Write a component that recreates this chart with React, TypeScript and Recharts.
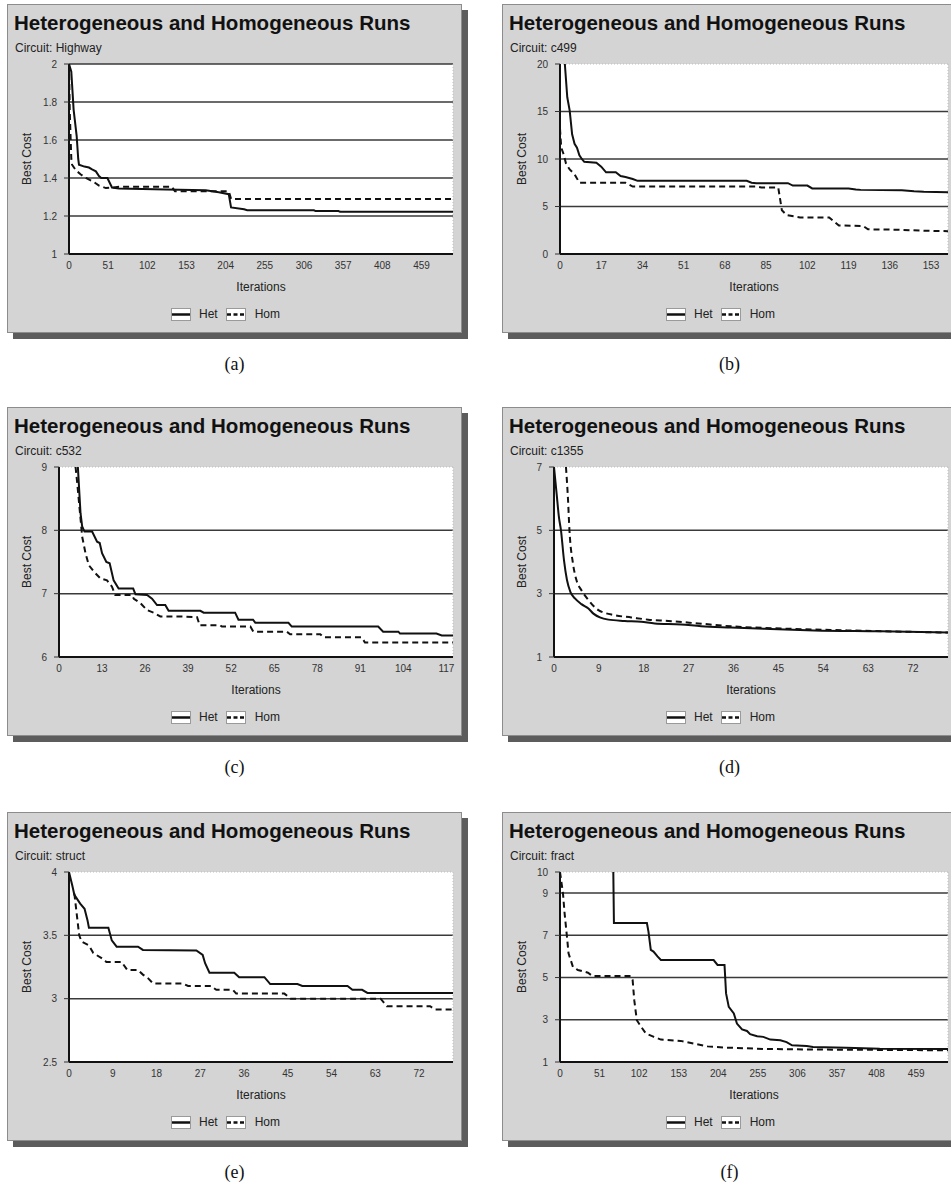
import {
  LineChart,
  Line,
  XAxis,
  YAxis,
  CartesianGrid,
  ReferenceLine,
  Legend,
} from "recharts";

type Pt = [number, number]; // [iteration, best cost]

// (a) Highway
const highwayHet: Pt[] = [
  [0, 2.0], [3, 1.96], [6, 1.76], [10, 1.62], [12, 1.5], [13, 1.47], [20, 1.46],
  [26, 1.455], [30, 1.445], [35, 1.435], [39, 1.41], [42, 1.4], [50, 1.4],
  [56, 1.35], [65, 1.345], [126, 1.34], [178, 1.335], [195, 1.325], [208, 1.315],
  [211, 1.245], [228, 1.235], [232, 1.23], [319, 1.23], [321, 1.226], [351, 1.226],
  [353, 1.222], [500, 1.222],
];
const highwayHom: Pt[] = [
  [0, 2.0], [1, 1.75], [3, 1.5], [4, 1.47], [9, 1.44], [15, 1.42], [22, 1.4],
  [32, 1.38], [39, 1.36], [48, 1.347], [58, 1.35], [65, 1.354], [134, 1.354],
  [138, 1.33], [208, 1.33], [211, 1.29], [500, 1.29],
];
const highwayXTicks = [0, 51, 102, 153, 204, 255, 306, 357, 408, 459];
const highwayYTicks = [1, 1.2, 1.4, 1.6, 1.8, 2];

// (b) c499
const c499Het: Pt[] = [
  [2, 20], [3, 16.5], [4, 15.1], [5, 12.6], [6, 11.6], [7, 11.2], [8, 10.4],
  [9, 10.0], [10, 9.7], [15, 9.6], [17, 9.2], [19, 8.6], [23, 8.6], [25, 8.2],
  [27, 8.1], [30, 7.9], [32, 7.7], [77, 7.7], [79, 7.5], [81, 7.45], [94, 7.45],
  [96, 7.2], [102, 7.2], [104, 6.9], [119, 6.9], [122, 6.8], [124, 6.75],
  [141, 6.7], [146, 6.6], [150, 6.55], [160, 6.5],
];
const c499Hom: Pt[] = [
  [0, 13.2], [0.5, 11.2], [1.5, 10.5], [2.5, 9.5], [4, 8.9], [6, 8.4], [8, 7.5],
  [27, 7.5], [30, 7.1], [81, 7.1], [83, 7.0], [90, 7.0], [91.5, 4.6], [93.5, 4.1],
  [99, 3.85], [111, 3.85], [115, 3.0], [125, 2.95], [127, 2.6], [140, 2.55],
  [150, 2.45], [160, 2.4],
];
const c499XTicks = [0, 17, 34, 51, 68, 85, 102, 119, 136, 153];
const c499YTicks = [0, 5, 10, 15, 20];

// (c) c532
const c532Het: Pt[] = [
  [5.7, 9], [6.5, 8.27], [7, 8.06], [7.7, 7.98], [10, 7.98], [11.5, 7.82],
  [12.3, 7.8], [13, 7.64], [14.3, 7.5], [15.3, 7.48], [16.5, 7.21], [18, 7.08],
  [22.4, 7.08], [23.1, 6.99], [26.6, 6.98], [28.1, 6.92], [29.6, 6.82], [32.1, 6.82],
  [33.1, 6.73], [42.7, 6.73], [43.7, 6.7], [53.2, 6.7], [54.2, 6.59], [58.6, 6.59],
  [59.3, 6.54], [69.3, 6.54], [70.3, 6.48], [96.4, 6.48], [97.9, 6.4], [102.5, 6.4],
  [103, 6.37], [114, 6.37], [115.6, 6.34], [119, 6.34],
];
const c532Hom: Pt[] = [
  [5, 9], [5.5, 8.75], [7, 7.9], [8, 7.64], [9, 7.45], [10.5, 7.35], [12.5, 7.24],
  [14.5, 7.21], [16, 7.11], [17, 6.98], [22, 6.98], [22.6, 6.92], [24.6, 6.85],
  [26.6, 6.74], [28.6, 6.7], [30.6, 6.64], [36.6, 6.64], [41.7, 6.63], [42.5, 6.5],
  [48.7, 6.5], [49.2, 6.48], [57.8, 6.48], [58.7, 6.4], [68.8, 6.4], [69.8, 6.36],
  [78.9, 6.36], [79.9, 6.31], [91.4, 6.31], [92.4, 6.23], [119, 6.23],
];
const c532XTicks = [0, 13, 26, 39, 52, 65, 78, 91, 104, 117];
const c532YTicks = [6, 7, 8, 9];

// (d) c1355
const c1355Het: Pt[] = [
  [0, 7], [0.5, 6.2], [1, 5.4], [1.4, 5.0], [2, 4.06], [2.6, 3.43], [3.3, 3.05],
  [4.2, 2.85], [5.5, 2.67], [6.9, 2.53], [7.9, 2.37], [9.2, 2.25], [10.9, 2.18],
  [14.2, 2.14], [17.5, 2.11], [20.2, 2.06], [25.5, 2.03], [29.5, 1.97], [35.5, 1.93],
  [42.2, 1.89], [52.2, 1.84], [65.5, 1.81], [79, 1.77],
];
const c1355Hom: Pt[] = [
  [2.4, 7], [2.8, 6.0], [3.1, 5.0], [3.8, 3.96], [4.5, 3.43], [5.5, 3.11], [6.9, 2.8],
  [8.9, 2.48], [12.2, 2.32], [15.5, 2.25], [18.9, 2.18], [22.9, 2.14], [28.9, 2.06],
  [35.5, 1.97], [45.5, 1.9], [58.9, 1.84], [79, 1.77],
];
const c1355XTicks = [0, 9, 18, 27, 36, 45, 54, 63, 72];
const c1355YTicks = [1, 3, 5, 7];

// (e) struct
const structHet: Pt[] = [
  [0, 4], [0.7, 3.89], [1.1, 3.82], [2.3, 3.75], [3.2, 3.71], [3.8, 3.62], [4.1, 3.56],
  [8.1, 3.56], [8.8, 3.46], [9.8, 3.41], [14.2, 3.41], [15.2, 3.385], [26.2, 3.38],
  [27.5, 3.345], [28, 3.28], [28.9, 3.205], [34, 3.205], [35, 3.17], [40.2, 3.17],
  [41.4, 3.115], [47, 3.115], [48, 3.1], [57.3, 3.1], [58.3, 3.07], [60.3, 3.07],
  [61.4, 3.045], [79, 3.045],
];
const structHom: Pt[] = [
  [1.1, 3.83], [2.1, 3.5], [2.6, 3.45], [4.1, 3.42], [5, 3.36], [6.7, 3.32],
  [7.7, 3.29], [10.8, 3.29], [12, 3.226], [14.2, 3.226], [15.2, 3.19], [16.3, 3.16],
  [17.3, 3.12], [23.4, 3.12], [24.5, 3.1], [29.2, 3.1], [30.3, 3.07], [33.7, 3.07],
  [34.4, 3.04], [44.3, 3.04], [45.6, 3.0], [64.1, 3.0], [65.4, 2.94], [74.3, 2.94],
  [75.3, 2.915], [79, 2.915],
];
const structXTicks = [0, 9, 18, 27, 36, 45, 54, 63, 72];
const structYTicks = [2.5, 3, 3.5, 4];

// (f) fract
const fractHet: Pt[] = [
  [68.7, 10], [69.5, 7.58], [112, 7.58], [114, 7.18], [117, 6.31], [120.5, 6.23],
  [125.6, 6.0], [130, 5.83], [198, 5.83], [203, 5.6], [212, 5.6], [214, 4.25],
  [217.5, 3.61], [224, 3.3], [228, 2.82], [234.6, 2.54], [241, 2.47], [245, 2.32],
  [254, 2.22], [262, 2.19], [271, 2.06], [284, 2.03], [292, 1.94], [299, 1.79],
  [318, 1.76], [326, 1.71], [369, 1.68], [412, 1.63], [500, 1.62],
];
const fractHom: Pt[] = [
  [0, 10], [3.8, 9.0], [5.9, 8.05], [9.4, 6.78], [11, 6.15], [16.7, 5.5], [23, 5.36],
  [36, 5.23], [42, 5.07], [91, 5.07], [93.6, 4.88], [95.7, 3.93], [99, 2.98],
  [104, 2.7], [110.6, 2.35], [121, 2.19], [130, 2.06], [155.5, 2.0], [172.6, 1.87],
  [190, 1.74], [215, 1.68], [262, 1.62], [326, 1.59], [500, 1.555],
];
const fractXTicks = [0, 51, 102, 153, 204, 255, 306, 357, 408, 459];
const fractYTicks = [1, 3, 5, 7, 9, 10];

type ChartSpec = {
  circuit: string;
  caption: string;
  het: Pt[];
  hom: Pt[];
  xMax: number;
  xTicks: number[];
  yTicks: number[];
  gridTop: boolean;
  smooth: boolean;
  axisWidth: number;
};

const charts: ChartSpec[] = [
  { circuit: "Highway", caption: "(a)", het: highwayHet, hom: highwayHom, xMax: 500, xTicks: highwayXTicks, yTicks: highwayYTicks, gridTop: true, smooth: false, axisWidth: 62 },
  { circuit: "c499", caption: "(b)", het: c499Het, hom: c499Hom, xMax: 160, xTicks: c499XTicks, yTicks: c499YTicks, gridTop: false, smooth: false, axisWidth: 58 },
  { circuit: "c532", caption: "(c)", het: c532Het, hom: c532Hom, xMax: 119, xTicks: c532XTicks, yTicks: c532YTicks, gridTop: false, smooth: false, axisWidth: 52 },
  { circuit: "c1355", caption: "(d)", het: c1355Het, hom: c1355Hom, xMax: 79, xTicks: c1355XTicks, yTicks: c1355YTicks, gridTop: false, smooth: true, axisWidth: 52 },
  { circuit: "struct", caption: "(e)", het: structHet, hom: structHom, xMax: 79, xTicks: structXTicks, yTicks: structYTicks, gridTop: false, smooth: false, axisWidth: 62 },
  { circuit: "fract", caption: "(f)", het: fractHet, hom: fractHom, xMax: 500, xTicks: fractXTicks, yTicks: fractYTicks, gridTop: false, smooth: false, axisWidth: 58 },
];

const FONT = '"Liberation Sans", Arial, Helvetica, sans-serif';
const PANEL_W = 455;
const PANEL_H = 329;
const ROW_TOPS = [4, 407, 812];
const COL_LEFTS = [7, 502];

const toRows = (pts: Pt[]) => pts.map(([iteration, cost]) => ({ iteration, cost }));

function LegendKey({ dashed }: { dashed?: boolean }) {
  return (
    <svg width={20} height={13} style={{ display: "block" }}>
      <rect x={0.5} y={0.5} width={19} height={12} fill="#fff" stroke="#9a9a9a" />
      <line
        x1={1}
        x2={19}
        y1={6.5}
        y2={6.5}
        stroke="#111"
        strokeWidth={2.5}
        strokeDasharray={dashed ? "4 2.5" : undefined}
      />
    </svg>
  );
}

function renderLegend() {
  return (
    <div
      style={{
        display: "flex",
        justifyContent: "center",
        alignItems: "center",
        height: 14,
        paddingRight: 9,
        fontFamily: FONT,
        fontSize: 12,
        color: "#222",
      }}
    >
      <LegendKey />
      <span style={{ marginLeft: 8, marginRight: 8 }}>Het</span>
      <LegendKey dashed />
      <span style={{ marginLeft: 9 }}>Hom</span>
    </div>
  );
}

function renderYLabel(props: any) {
  const vb = props.viewBox || {};
  const x = (vb.x || 0) + 24;
  const y = (vb.y || 0) + (vb.height || 0) / 2;
  return (
    <text
      x={x}
      y={y}
      transform={`rotate(-90 ${x} ${y})`}
      textAnchor="middle"
      fontSize={12}
      fontFamily={FONT}
      fill="#222"
    >
      Best Cost
    </text>
  );
}

function Panel({ spec, left, top }: { spec: ChartSpec; left: number; top: number }) {
  const yMin = spec.yTicks[0];
  const yMax = spec.yTicks[spec.yTicks.length - 1];
  const gridValues = spec.yTicks.filter(
    (v, k) => k > 0 && (spec.gridTop || k < spec.yTicks.length - 1)
  );

  return (
    <>
      <div
        style={{
          position: "absolute",
          left,
          top,
          width: PANEL_W,
          height: PANEL_H,
          boxSizing: "border-box",
          background: "#d4d4d4",
          border: "1px solid #8c8c8c",
          boxShadow: "6px 6px 0 #5c5c5c",
          fontFamily: FONT,
        }}
      >
        <div
          style={{
            position: "absolute",
            left: 6,
            top: 8,
            fontSize: 20.5,
            lineHeight: "20.5px",
            fontWeight: "bold",
            color: "#111",
            whiteSpace: "nowrap",
          }}
        >
          Heterogeneous and Homogeneous Runs
        </div>
        <div
          style={{
            position: "absolute",
            left: 7,
            top: 37,
            fontSize: 12,
            lineHeight: "12px",
            color: "#222",
            whiteSpace: "nowrap",
          }}
        >
          Circuit: {spec.circuit}
        </div>
        <div style={{ position: "absolute", left: -1, top: -1 }}>
          <LineChart
            width={PANEL_W}
            height={PANEL_H}
            margin={{ top: 60, right: 9, left: 0, bottom: 12 }}
          >
            <CartesianGrid horizontal={false} vertical={false} fill="#ffffff" />
            {gridValues.map((v) => (
              <ReferenceLine key={v} y={v} stroke="#3a3a3a" strokeWidth={1.5} />
            ))}
            {!spec.gridTop && (
              <ReferenceLine y={yMax} stroke="#bdbdbd" strokeDasharray="1 2" />
            )}
            <ReferenceLine x={spec.xMax} stroke="#bdbdbd" strokeDasharray="1 2" />
            <XAxis
              type="number"
              dataKey="iteration"
              domain={[0, spec.xMax]}
              ticks={spec.xTicks}
              interval={0}
              allowDataOverflow
              height={53}
              tickLine={false}
              tickSize={0}
              tickMargin={8}
              axisLine={{ stroke: "#111", strokeWidth: 2 }}
              tick={{ fontSize: 10, fill: "#333", fontFamily: FONT }}
              label={{
                value: "Iterations",
                position: "insideBottom",
                offset: 16,
                fontSize: 12,
                fill: "#222",
                fontFamily: FONT,
              }}
            />
            <YAxis
              type="number"
              domain={[yMin, yMax]}
              ticks={spec.yTicks}
              interval={0}
              allowDataOverflow
              width={spec.axisWidth}
              tickSize={5}
              tickMargin={7}
              tickLine={{ stroke: "#333" }}
              axisLine={{ stroke: "#111", strokeWidth: 2 }}
              tick={{ fontSize: 10, fill: "#333", fontFamily: FONT }}
              label={renderYLabel}
            />
            <Legend verticalAlign="bottom" content={renderLegend} />
            <Line
              name="Het"
              data={toRows(spec.het)}
              dataKey="cost"
              type={spec.smooth ? "monotone" : "linear"}
              stroke="#111"
              strokeWidth={2}
              dot={false}
              isAnimationActive={false}
            />
            <Line
              name="Hom"
              data={toRows(spec.hom)}
              dataKey="cost"
              type={spec.smooth ? "monotone" : "linear"}
              stroke="#111"
              strokeWidth={2}
              strokeDasharray="6 4"
              dot={false}
              isAnimationActive={false}
            />
          </LineChart>
        </div>
      </div>
      <div
        style={{
          position: "absolute",
          left,
          top: top + 351,
          width: PANEL_W,
          textAlign: "center",
          fontFamily: '"Liberation Serif", "Times New Roman", serif',
          fontSize: 18,
          lineHeight: "18px",
          color: "#111",
        }}
      >
        {spec.caption}
      </div>
    </>
  );
}

export default function App() {
  return (
    <div
      style={{
        position: "absolute",
        left: 0,
        top: 0,
        width: 951,
        height: 1186,
        overflow: "hidden",
        background: "#ffffff",
      }}
    >
      {charts.map((spec, k) => (
        <Panel
          key={spec.caption}
          spec={spec}
          left={COL_LEFTS[k % 2]}
          top={ROW_TOPS[Math.floor(k / 2)]}
        />
      ))}
    </div>
  );
}
